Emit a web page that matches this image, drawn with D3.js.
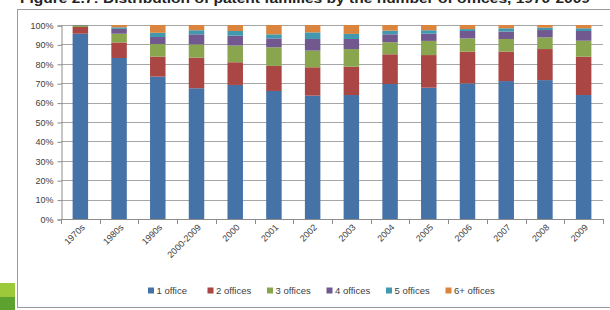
<!DOCTYPE html>
<html>
<head>
<meta charset="utf-8">
<script src="https://cdn.jsdelivr.net/npm/d3@7"></script>
<style>
  body { margin: 0; background: #fff; }
  text { font-family: "Liberation Sans", Arial, sans-serif; }
</style>
</head>
<body>
<div class="main"></div>
<script>
var categories = ['1970s', '1980s', '1990s', '2000-2009', '2000', '2001', '2002', '2003', '2004', '2005', '2006', '2007', '2008', '2009'];
var seriesNames = ['1 office', '2 offices', '3 offices', '4 offices', '5 offices', '6+ offices'];
var office1 = [95.5, 83.0, 73.4, 67.4, 69.1, 66.0, 63.6, 63.9, 69.6, 67.7, 69.9, 71.1, 71.6, 63.9];
var office2 = [3.5, 8.0, 10.3, 15.8, 11.7, 12.9, 14.6, 14.6, 15.3, 16.8, 16.4, 15.2, 16.0, 19.8];
var office3 = [0.7, 4.5, 6.5, 6.8, 8.6, 9.6, 8.6, 9.1, 6.2, 7.3, 6.8, 6.5, 6.0, 8.2];
var office4 = [0.2, 2.5, 3.6, 5.2, 5.1, 4.6, 6.0, 5.2, 4.1, 3.7, 3.8, 3.8, 3.8, 5.0];
var office5 = [0.05, 0.8, 2.2, 2.1, 2.4, 2.1, 3.4, 2.6, 1.9, 1.8, 1.0, 1.7, 1.2, 1.4];
var office6 = [0.05, 1.2, 4.0, 2.7, 3.1, 4.8, 3.8, 4.6, 2.9, 2.7, 2.1, 1.7, 1.4, 1.7];
var yTicks = [0, 10, 20, 30, 40, 50, 60, 70, 80, 90, 100];
var colors = ['#4572A7', '#AA4643', '#89A54E', '#71588F', '#4198AF', '#DB843D'];

var seriesValues = [office1, office2, office3, office4, office5, office6];
var table = categories.map(function (c, i) {
    var row = { cat: c };
    seriesNames.forEach(function (s, j) { row[s] = seriesValues[j][i]; });
    return row;
});

var svg = d3.select('.main')
    .append('svg')
    .attr('width', 610)
    .attr('height', 310);

// title, cut off at the top edge like the reference
svg.append('text')
    .attr('x', 20)
    .attr('y', 3)
    .attr('font-weight', 'bold')
    .style('font-size', '12.5px')
    .attr('fill', '#222')
    .attr('textLength', 570)
    .attr('lengthAdjust', 'spacingAndGlyphs')
    .text('Figure 2.7: Distribution of patent families by the number of offices, 1970-2009');

// chart frame
svg.append('rect')
    .attr('x', 17.5)
    .attr('y', 9.5)
    .attr('width', 620)
    .attr('height', 298)
    .attr('fill', '#fff')
    .attr('stroke', '#9a9a9a')
    .attr('stroke-width', 1);

// green squares at the bottom left
svg.append('rect').attr('x', 0).attr('y', 283).attr('width', 15).attr('height', 14).attr('fill', '#9bc93a');
svg.append('rect').attr('x', 0).attr('y', 297).attr('width', 15).attr('height', 13).attr('fill', '#5da22e');

var x = d3.scaleBand().domain(categories).range([61, 603]).paddingInner(0.6).paddingOuter(0.3);
var y = d3.scaleLinear().domain([0, 100]).range([219, 25]);

var g = svg.append('g');

// gridlines
g.selectAll('.grid')
    .data(yTicks.filter(function (d) { return d > 0; }))
    .enter()
    .append('line')
    .attr('class', 'grid')
    .attr('x1', 61)
    .attr('x2', 603)
    .attr('y1', function (d) { return Math.round(y(d)) + 0.5; })
    .attr('y2', function (d) { return Math.round(y(d)) + 0.5; })
    .style('stroke', '#a6a6a6')
    .style('stroke-width', '1px');

// stacked bars
var stack = d3.stack().keys(seriesNames)(table);

g.selectAll('.layer')
    .data(stack)
    .enter()
    .append('g')
    .attr('class', 'layer')
    .attr('fill', function (d, i) { return colors[i]; })
    .selectAll('rect')
    .data(function (d) { return d; })
    .enter()
    .append('rect')
    .attr('x', function (d) { return x(d.data.cat); })
    .attr('width', x.bandwidth())
    .attr('y', function (d) { return y(d[1]); })
    .attr('height', function (d) { return y(d[0]) - y(d[1]); });

// y axis
var yAxis = d3.axisLeft(y)
    .tickValues(yTicks)
    .tickFormat(function (d) { return d + '%'; })
    .tickSize(4)
    .tickPadding(4);

var ya = svg.append('g')
    .attr('transform', 'translate(61.5,0.5)')
    .call(yAxis);
ya.select('.domain').attr('stroke', '#8c8c8c');
ya.selectAll('.tick line').attr('stroke', '#8c8c8c');
ya.selectAll('text')
    .style('font-size', '9px')
    .attr('fill', '#404040');

// x axis with ticks at band edges
var xa = svg.append('g').attr('class', 'xaxis');
xa.append('line')
    .attr('x1', 61)
    .attr('x2', 603)
    .attr('y1', 219.5)
    .attr('y2', 219.5)
    .attr('stroke', '#8c8c8c');

var step = x.step();
var edges = d3.range(categories.length + 1).map(function (i) { return x(categories[0]) - step * x.paddingOuter() + i * step; });
xa.selectAll('.xt')
    .data(edges)
    .enter()
    .append('line')
    .attr('class', 'xt')
    .attr('x1', function (d) { return Math.round(d) + 0.5; })
    .attr('x2', function (d) { return Math.round(d) + 0.5; })
    .attr('y1', 219)
    .attr('y2', 224)
    .attr('stroke', '#8c8c8c');

xa.selectAll('.xl')
    .data(categories)
    .enter()
    .append('text')
    .attr('class', 'xl')
    .text(function (d) { return d; })
    .attr('text-anchor', 'end')
    .attr('transform', function (d) {
        return 'translate(' + [x(d) + x.bandwidth() / 2 + 5, 228] + ') rotate(-45)';
    })
    .style('font-size', '9px')
    .attr('fill', '#404040');

// legend
var legend = svg.selectAll('.legend')
    .data(seriesNames)
    .enter()
    .append('g')
    .attr('class', 'legend')
    .attr('transform', function (d, i) {
        return 'translate(' + [148 + i * 59.5, 291] + ')';
    });

legend.append('rect')
    .attr('x', 0)
    .attr('y', -3.5)
    .attr('width', 6)
    .attr('height', 6)
    .attr('fill', function (d, i) { return colors[i]; });

legend.append('text')
    .attr('x', 8.5)
    .attr('y', 3)
    .text(function (d) { return d; })
    .style('font-size', '9.5px')
    .attr('fill', '#404040');
</script>
</body>
</html>
